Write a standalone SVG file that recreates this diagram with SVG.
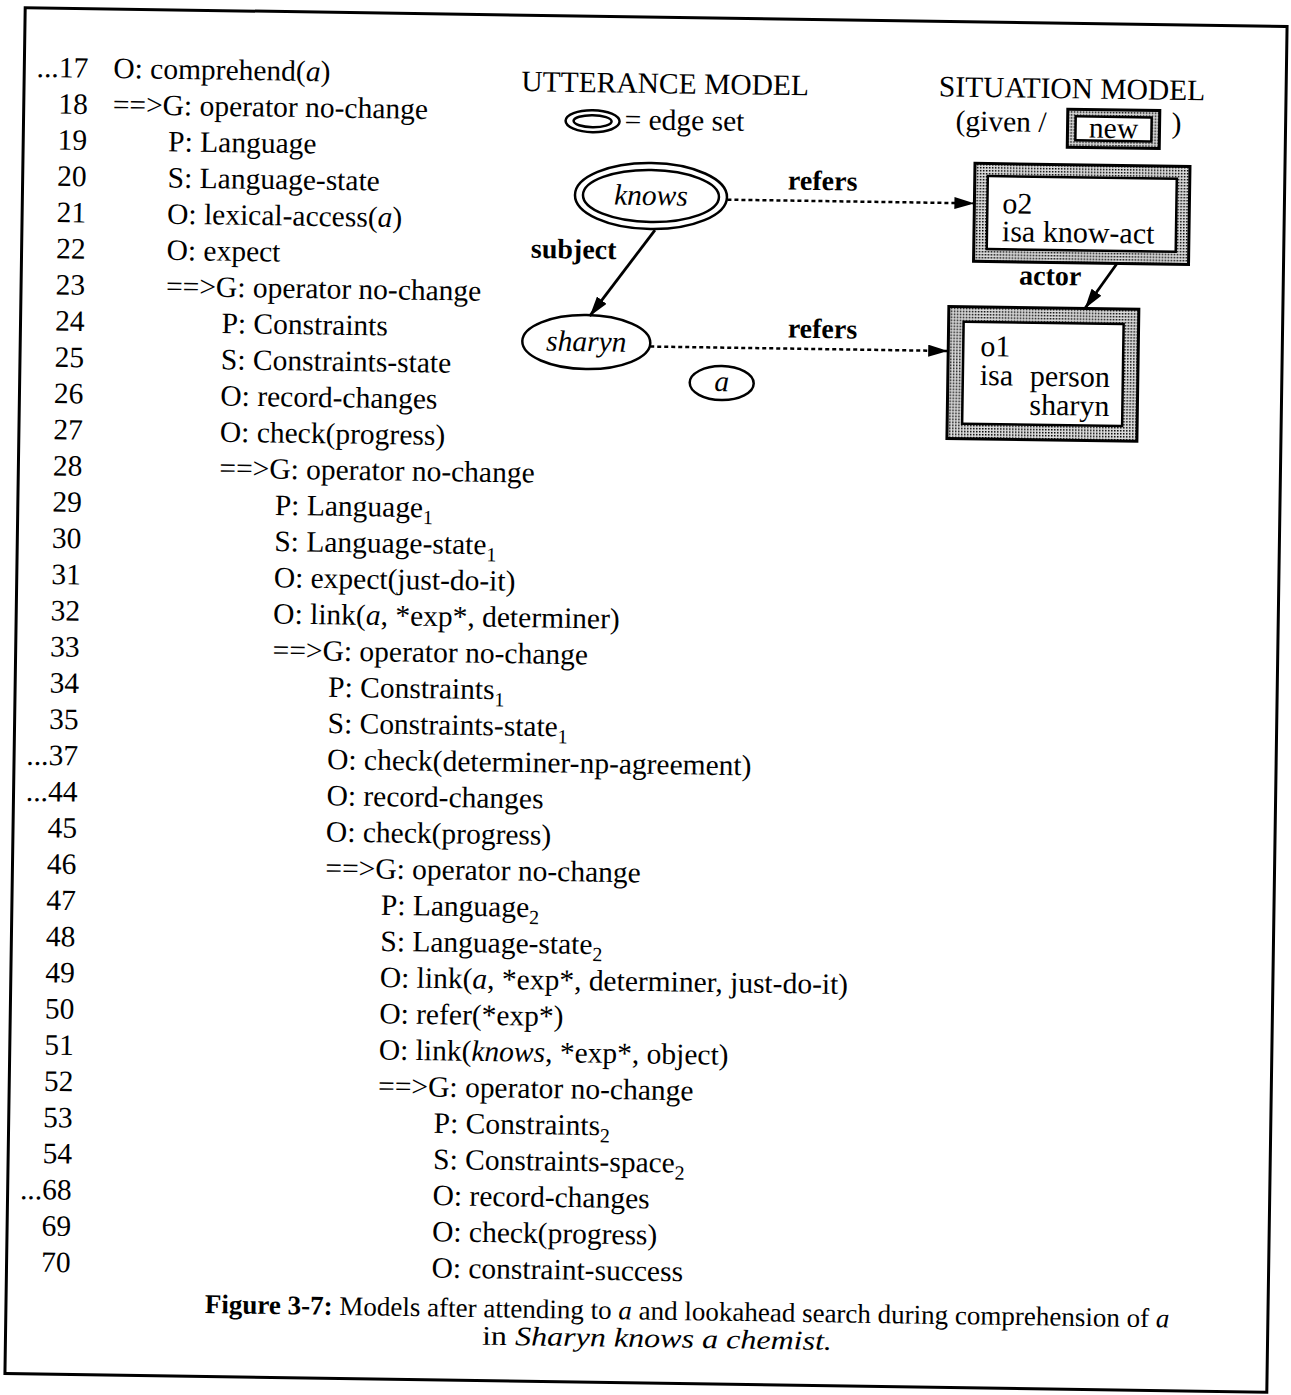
<svg xmlns="http://www.w3.org/2000/svg" width="1291" height="1395" viewBox="0 0 1291 1395">
<style>
  text { font-family: "Liberation Serif", "Times New Roman", serif; fill: #000; }
  .num { font-size: 29.5px; text-anchor: end; }
  .ln { font-size: 29.5px; }
  .hd { font-size: 29.5px; text-anchor: middle; }
  .lbl { font-size: 28px; font-weight: bold; text-anchor: middle; }
  .nd { font-size: 29.5px; font-style: italic; text-anchor: middle; }
  .bx { font-size: 30px; }
  .cap { font-size: 27px; }
  .it { font-style: italic; }
  .sub { font-size: 20px; }
  .edge { fill: none; stroke: #000; stroke-width: 2.5; }
  .solid { fill: none; stroke: #000; stroke-width: 2.8; }
  .dotted { fill: none; stroke: #000; stroke-width: 2.5; stroke-dasharray: 4 3; }
  .frame { fill: none; stroke: #000; stroke-width: 3; }
  .shade { fill: url(#stipple); stroke: #000; stroke-width: 3; }
  .inner { fill: #fff; stroke: #000; stroke-width: 2.5; }
</style>
<defs>
  <pattern id="stipple" width="3" height="3" patternUnits="userSpaceOnUse">
    <rect width="3" height="3" fill="#dcdcdc"/>
    <rect width="1.5" height="1.5" fill="#000"/>
  </pattern>
  <marker id="arrow" viewBox="0 0 20 12" refX="20" refY="6" markerWidth="20" markerHeight="12" markerUnits="userSpaceOnUse" orient="auto">
    <path d="M0,0 L20,6 L0,12 z" fill="#000"/>
  </marker>
</defs>
<rect width="1291" height="1395" fill="#fff"/>
<g transform="rotate(0.85 645 700)">
  <!-- page frame -->
  <rect class="frame" x="15" y="17" width="1262" height="1366"/>

  <!-- trace listing -->
  <g id="trace">
    <text class="num" x="79" y="86">...17</text><text class="ln" x="104" y="86">O: comprehend(<tspan class="it">a</tspan>)</text>
    <text class="num" x="79" y="122.2">18</text><text class="ln" x="104" y="122.2">==&gt;G: operator no-change</text>
    <text class="num" x="79" y="158.4">19</text><text class="ln" x="160" y="158.4">P: Language</text>
    <text class="num" x="79" y="194.6">20</text><text class="ln" x="160" y="194.6">S: Language-state</text>
    <text class="num" x="79" y="230.8">21</text><text class="ln" x="160" y="230.8">O: lexical-access(<tspan class="it">a</tspan>)</text>
    <text class="num" x="79" y="267">22</text><text class="ln" x="160" y="267">O: expect</text>
    <text class="num" x="79" y="303.2">23</text><text class="ln" x="160" y="303.2">==&gt;G: operator no-change</text>
    <text class="num" x="79" y="339.4">24</text><text class="ln" x="216" y="339.4">P: Constraints</text>
    <text class="num" x="79" y="375.6">25</text><text class="ln" x="216" y="375.6">S: Constraints-state</text>
    <text class="num" x="79" y="411.8">26</text><text class="ln" x="216" y="411.8">O: record-changes</text>
    <text class="num" x="79" y="448">27</text><text class="ln" x="216" y="448">O: check(progress)</text>
    <text class="num" x="79" y="484.2">28</text><text class="ln" x="216" y="484.2">==&gt;G: operator no-change</text>
    <text class="num" x="79" y="520.4">29</text><text class="ln" x="272" y="520.4">P: Language<tspan class="sub" dy="7">1</tspan></text>
    <text class="num" x="79" y="556.6">30</text><text class="ln" x="272" y="556.6">S: Language-state<tspan class="sub" dy="7">1</tspan></text>
    <text class="num" x="79" y="592.8">31</text><text class="ln" x="272" y="592.8">O: expect(just-do-it)</text>
    <text class="num" x="79" y="629">32</text><text class="ln" x="272" y="629">O: link(<tspan class="it">a</tspan>, *exp*, determiner)</text>
    <text class="num" x="79" y="665.2">33</text><text class="ln" x="272" y="665.2">==&gt;G: operator no-change</text>
    <text class="num" x="79" y="701.4">34</text><text class="ln" x="328" y="701.4">P: Constraints<tspan class="sub" dy="7">1</tspan></text>
    <text class="num" x="79" y="737.6">35</text><text class="ln" x="328" y="737.6">S: Constraints-state<tspan class="sub" dy="7">1</tspan></text>
    <text class="num" x="79" y="773.8">...37</text><text class="ln" x="328" y="773.8">O: check(determiner-np-agreement)</text>
    <text class="num" x="79" y="810">...44</text><text class="ln" x="328" y="810">O: record-changes</text>
    <text class="num" x="79" y="846.2">45</text><text class="ln" x="328" y="846.2">O: check(progress)</text>
    <text class="num" x="79" y="882.4">46</text><text class="ln" x="328" y="882.4">==&gt;G: operator no-change</text>
    <text class="num" x="79" y="918.6">47</text><text class="ln" x="384" y="918.6">P: Language<tspan class="sub" dy="7">2</tspan></text>
    <text class="num" x="79" y="954.8">48</text><text class="ln" x="384" y="954.8">S: Language-state<tspan class="sub" dy="7">2</tspan></text>
    <text class="num" x="79" y="991">49</text><text class="ln" x="384" y="991">O: link(<tspan class="it">a</tspan>, *exp*, determiner, just-do-it)</text>
    <text class="num" x="79" y="1027.2">50</text><text class="ln" x="384" y="1027.2">O: refer(*exp*)</text>
    <text class="num" x="79" y="1063.4">51</text><text class="ln" x="384" y="1063.4">O: link(<tspan class="it">knows</tspan>, *exp*, object)</text>
    <text class="num" x="79" y="1099.6">52</text><text class="ln" x="384" y="1099.6">==&gt;G: operator no-change</text>
    <text class="num" x="79" y="1135.8">53</text><text class="ln" x="440" y="1135.8">P: Constraints<tspan class="sub" dy="7">2</tspan></text>
    <text class="num" x="79" y="1172">54</text><text class="ln" x="440" y="1172">S: Constraints-space<tspan class="sub" dy="7">2</tspan></text>
    <text class="num" x="79" y="1208.2">...68</text><text class="ln" x="440" y="1208.2">O: record-changes</text>
    <text class="num" x="79" y="1244.4">69</text><text class="ln" x="440" y="1244.4">O: check(progress)</text>
    <text class="num" x="79" y="1280.6">70</text><text class="ln" x="440" y="1280.6">O: constraint-success</text>
  </g>

  <!-- model headings and legends -->
  <g id="utterance-legend">
    <text class="hd" x="656" y="93">UTTERANCE MODEL</text>
    <ellipse class="edge" cx="584" cy="122" rx="27" ry="11"/>
    <ellipse class="edge" cx="584" cy="122" rx="19" ry="6"/>
    <text class="ln" x="616" y="129.5">= edge set</text>
  </g>
  <g id="situation-legend">
    <text class="hd" x="1063" y="92">SITUATION MODEL</text>
    <text class="ln" x="947" y="126">(given  /</text>
    <rect class="shade" x="1059" y="103" width="92" height="38"/>
    <rect class="inner" x="1067" y="110" width="76" height="24"/>
    <text class="hd" x="1105" y="131">new</text>
    <text class="ln" x="1163" y="125">)</text>
  </g>

  <!-- utterance model nodes -->
  <g id="node-knows">
    <ellipse class="edge" cx="643.5" cy="196" rx="76" ry="33"/>
    <ellipse class="edge" cx="643.5" cy="196" rx="68" ry="26"/>
    <text class="nd" x="643.5" y="205">knows</text>
  </g>
  <g id="node-sharyn">
    <ellipse class="edge" cx="581" cy="343" rx="64" ry="27"/>
    <text class="nd" x="581" y="352">sharyn</text>
  </g>
  <g id="node-a">
    <ellipse class="edge" cx="717" cy="382" rx="32" ry="17"/>
    <text class="nd" x="717" y="390">a</text>
  </g>

  <!-- situation model nodes -->
  <g id="node-o2">
    <rect class="shade" x="967" y="158.5" width="215" height="98"/>
    <rect class="inner" x="980" y="171" width="189" height="73"/>
    <text class="bx" x="995" y="208">o2</text>
    <text class="bx" x="995" y="236">isa know-act</text>
  </g>
  <g id="node-o1">
    <rect class="shade" x="943" y="302" width="190" height="132"/>
    <rect class="inner" x="958" y="317" width="160" height="102"/>
    <text class="bx" x="975" y="351">o1</text>
    <text class="bx" x="975" y="380">isa</text>
    <text class="bx" x="1025" y="380">person</text>
    <text class="bx" x="1025" y="409">sharyn</text>
  </g>

  <!-- connectors -->
  <g id="connectors">
    <line class="dotted" x1="720" y1="198.5" x2="967" y2="198.5" marker-end="url(#arrow)"/>
    <text class="lbl" x="815" y="187.5">refers</text>
    <line class="solid" x1="648" y1="230" x2="584" y2="317" marker-end="url(#arrow)"/>
    <text class="lbl" x="567" y="259.5">subject</text>
    <line class="solid" x1="1110.5" y1="256.5" x2="1079" y2="302" marker-end="url(#arrow)"/>
    <text class="lbl" x="1044" y="279">actor</text>
    <line class="dotted" x1="645" y1="346.5" x2="943" y2="346.5" marker-end="url(#arrow)"/>
    <text class="lbl" x="817" y="335.5">refers</text>
  </g>

  <!-- caption -->
  <g id="caption">
    <text class="cap" x="214" y="1319.5"><tspan font-weight="bold">Figure 3-7:</tspan>  Models after attending to <tspan class="it">a</tspan> and lookahead search during comprehension of <tspan class="it">a</tspan></text>
    <text class="cap" x="491.5" y="1347" textLength="350" lengthAdjust="spacingAndGlyphs">in <tspan class="it">Sharyn knows a chemist.</tspan></text>
  </g>
</g>
</svg>
